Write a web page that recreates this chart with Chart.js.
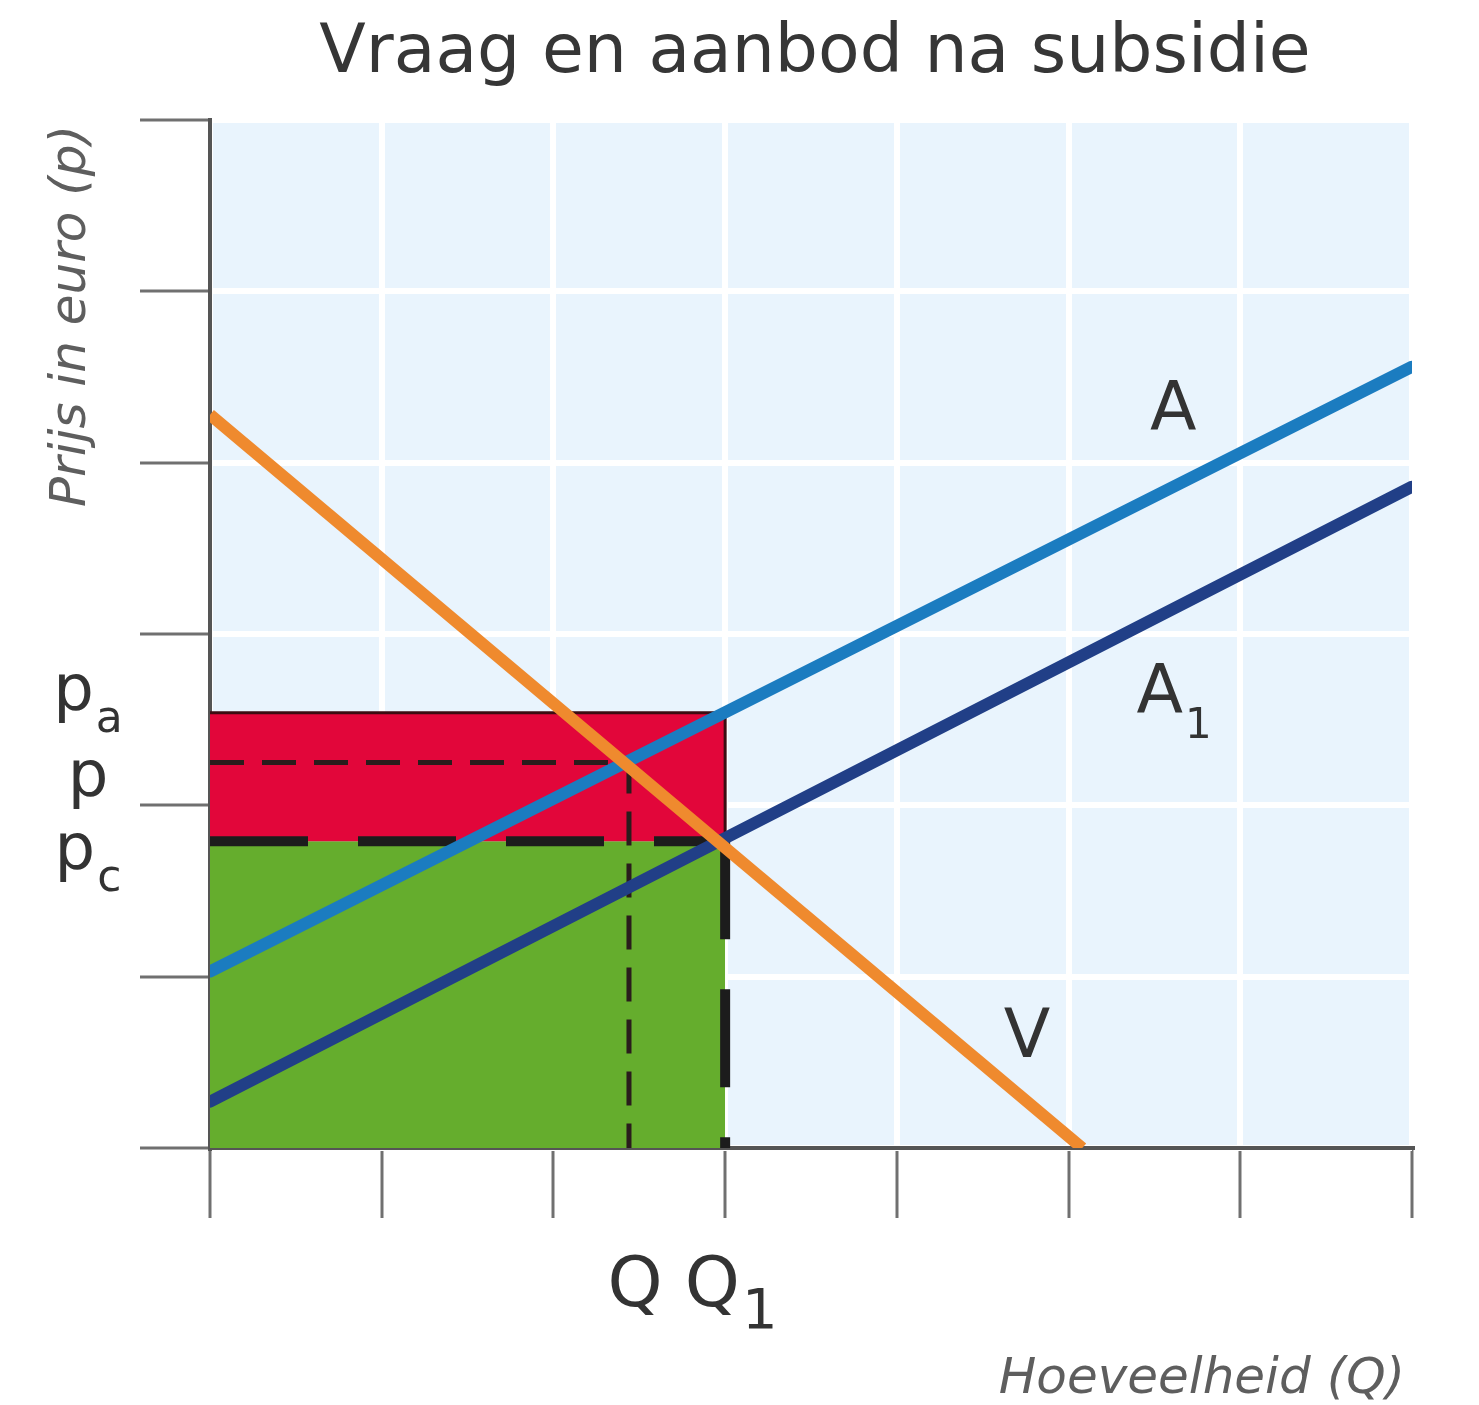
<!DOCTYPE html>
<html>
<head>
<meta charset="utf-8">
<script src="https://cdn.jsdelivr.net/npm/chart.js@4"></script>
<style>
  html, body { margin: 0; padding: 0; background: #ffffff; }
  #wrap { width: 1479px; height: 1405px; position: relative; }
</style>
</head>
<body>
<div id="wrap"><canvas id="c"></canvas></div>
<script>
// ---- Data (axis units: 7 grid columns x 6 grid rows) ----
const gridX = [0, 1, 2, 3, 4, 5, 6, 7];
const gridY = [0, 1, 2, 3, 4, 5, 6];

// Curves: [quantity, price] end points
const aanbodA  = [[0, 1.03], [7, 4.56]];   // supply before subsidy (A)
const aanbodA1 = [[0, 0.27], [7, 3.86]];   // supply after subsidy (A1)
const vraagV   = [[0, 4.28], [5.08, 0]];   // demand (V)

// Price levels on the y-axis
const priceValues = [2.54, 2.25, 1.79];    // pa, p, pc
const priceMain   = ['p', 'p', 'p'];
const priceSub    = ['a', '', 'c'];

// Quantity levels on the x-axis
const qtyValues = [2.44, 3.0];             // Q, Q1
const qtyMain   = ['Q', 'Q'];
const qtySub    = ['', '1'];

// Curve names
const curveMain = ['A', 'A', 'V'];
const curveSub  = ['', '1', ''];

const titleText  = 'Vraag en aanbod na subsidie';
const yAxisTitle = 'Prijs in euro (p)';
const xAxisTitle = 'Hoeveelheid (Q)';

// ---- Build datasets from the arrays ----
const toPts = arr => arr.map(([x, y]) => ({ x, y }));
const pa = priceValues[0], p = priceValues[1], pc = priceValues[2];
const Q = qtyValues[0], Q1 = qtyValues[1];

const datasets = [
  { // demand V (top)
    data: toPts(vraagV), borderColor: '#ef8a2e', borderWidth: 12, order: 1
  },
  { // supply A
    data: toPts(aanbodA), borderColor: '#1b7cc0', borderWidth: 12, order: 2, borderCapStyle: 'round'
  },
  { // supply A1
    data: toPts(aanbodA1), borderColor: '#213f87', borderWidth: 12, order: 3, borderCapStyle: 'round'
  },
  { // thin dashed p / Q
    data: toPts([[0, p], [Q, p], [Q, 0]]), borderColor: '#2a1c1c', borderWidth: 5,
    borderDash: [34, 18], order: 4
  },
  { // thick dashed pc horizontal
    data: toPts([[0, pc], [Q1, pc]]), borderColor: '#1c1c1c', borderWidth: 10,
    borderDash: [98, 50], order: 5
  },
  { // thick dashed Q1 vertical
    data: toPts([[Q1, pc], [Q1, 0]]), borderColor: '#1c1c1c', borderWidth: 10,
    borderDash: [98, 50], order: 5
  },
  { // red area (subsidy paid by producers' gain)
    data: toPts([[0, pa], [Q1, pa], [Q1, pc]]), borderColor: '#3c0c12', borderWidth: 3,
    backgroundColor: '#e2063a', fill: { value: pc }, order: 6
  },
  { // green area
    data: toPts([[0, pc], [Q1, pc]]), borderColor: 'rgba(0,0,0,0)', borderWidth: 1,
    backgroundColor: '#65ad2d', fill: 'origin', order: 7
  }
].map(d => Object.assign({ showLine: true, pointRadius: 0, pointHoverRadius: 0, tension: 0 }, d));

// ---- Plugins ----
const plotBg = {
  id: 'plotBg',
  beforeDraw(chart) {
    const { ctx, chartArea: a } = chart;
    ctx.save();
    ctx.fillStyle = '#e9f4fd';
    ctx.fillRect(a.left, a.top, a.right - a.left, a.bottom - a.top);
    ctx.restore();
  }
};

function drawSubLabel(ctx, main, sub, x, y, mainFont, subFont, subDy, align) {
  ctx.font = mainFont;
  const wm = ctx.measureText(main).width;
  ctx.font = subFont;
  const ws = sub ? ctx.measureText(sub).width + 2 : 0;
  const total = wm + ws;
  const start = align === 'left' ? x : x - total / 2;
  ctx.textAlign = 'left';
  ctx.textBaseline = 'alphabetic';
  ctx.font = mainFont;
  ctx.fillText(main, start, y);
  if (sub) {
    ctx.font = subFont;
    ctx.fillText(sub, start + wm + 2, y + subDy);
  }
}

const texts = {
  id: 'texts',
  afterDraw(chart) {
    const { ctx, chartArea: a, scales } = chart;
    const xs = scales.x, ys = scales.y;
    ctx.save();

    // title
    ctx.fillStyle = '#363636';
    ctx.font = '68px "DejaVu Sans"';
    ctx.textAlign = 'center';
    ctx.textBaseline = 'alphabetic';
    ctx.fillText(titleText, (a.left + a.right) / 2 + 4, 72);

    // axis titles
    ctx.fillStyle = '#5e5e5e';
    ctx.font = 'oblique 50px "DejaVu Sans"';
    ctx.textAlign = 'right';
    ctx.fillText(xAxisTitle, 1405, 1393);
    ctx.save();
    ctx.translate(85, 316);
    ctx.rotate(-Math.PI / 2);
    ctx.textAlign = 'center';
    ctx.fillText(yAxisTitle, 0, 0);
    ctx.restore();

    // price tick labels
    ctx.fillStyle = '#333333';
    const priceDy = [-3, 33, 28];
    priceValues.forEach((v, i) => {
      drawSubLabel(ctx, priceMain[i], priceSub[i], 88, ys.getPixelForValue(v) + priceDy[i],
        '64px "DejaVu Sans"', '44px "DejaVu Sans"', 22, 'center');
    });

    // quantity tick labels
    qtyValues.forEach((v, i) => {
      drawSubLabel(ctx, qtyMain[i], qtySub[i], xs.getPixelForValue(v) + 6, 1306,
        '70px "DejaVu Sans"', '56px "DejaVu Sans"', 22, 'center');
    });

    // curve names
    const curvePos = [[5.61, 4.19], [5.395, 2.54], [4.758, 0.531]];
    const curveAlign = ['center', 'left', 'center'];
    curveMain.forEach((t, i) => {
      drawSubLabel(ctx, t, curveSub[i], xs.getPixelForValue(curvePos[i][0]),
        ys.getPixelForValue(curvePos[i][1]), '68px "DejaVu Sans"', '42px "DejaVu Sans"', 25, curveAlign[i]);
    });
    ctx.restore();
  }
};

const gridStyle = {
  color: '#ffffff', lineWidth: 6,
  drawTicks: true, tickLength: 70, tickColor: '#707070', tickWidth: 3
};

new Chart(document.getElementById('c'), {
  type: 'scatter',
  data: { datasets },
  options: {
    responsive: true,
    maintainAspectRatio: false,
    animation: false,
    events: [],
    layout: { padding: { top: 120, right: 67, left: 0, bottom: 0 } },
    plugins: { legend: { display: false }, tooltip: { enabled: false }, title: { display: false } },
    scales: {
      x: {
        type: 'linear', min: gridX[0], max: gridX[gridX.length - 1],
        ticks: { stepSize: 1, display: false },
        grid: gridStyle,
        border: { display: true, color: '#555555', width: 4 },
        afterFit(s) { s.height = 257; }
      },
      y: {
        type: 'linear', min: gridY[0], max: gridY[gridY.length - 1],
        ticks: { stepSize: 1, display: false },
        grid: gridStyle,
        border: { display: true, color: '#555555', width: 4 },
        afterFit(s) { s.width = 210; }
      }
    }
  },
  plugins: [plotBg, texts]
});
</script>
</body>
</html>
